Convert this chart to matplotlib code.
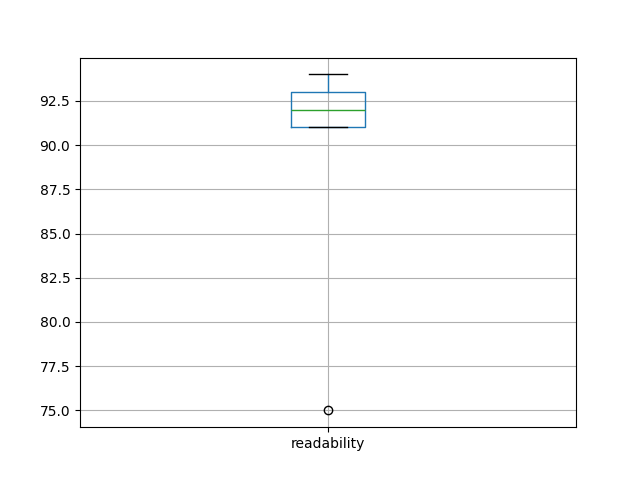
import matplotlib
matplotlib.use("Agg")
import matplotlib.pyplot as plt
import pandas as pd

readability = [75, 91, 91, 92, 93, 93, 94]

df = pd.DataFrame({"readability": readability})
fig, ax = plt.subplots(figsize=(6.4, 4.8), dpi=100)
df.boxplot(column=["readability"], ax=ax)
fig.savefig("out.png")
